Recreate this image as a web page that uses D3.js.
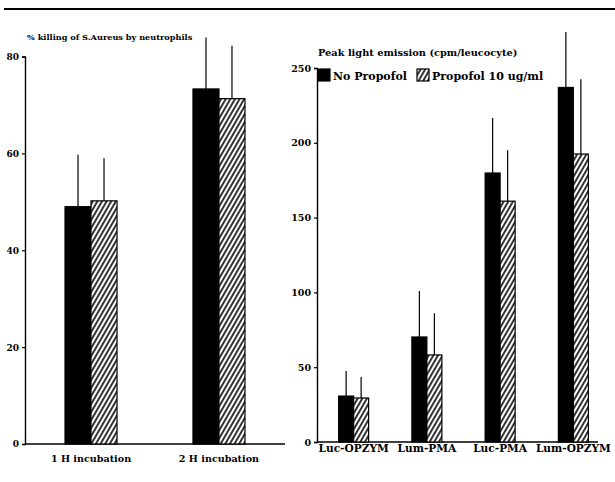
<!DOCTYPE html>
<html><head><meta charset="utf-8">
<script src="https://cdn.jsdelivr.net/npm/d3@7"></script>
<style>body{margin:0;background:#fff}svg{display:block}text{font-family:"DejaVu Serif",serif;font-weight:bold;fill:#000}</style>
</head><body><svg id="c" width="615" height="482"></svg>
<script>
// Left panel data
const leftCategories = ["1 H incubation", "2 H incubation"];
const leftNoPropofol = [49, 73.3];
const leftNoPropofolErr = [10.7, 10.6];
const leftPropofol = [50.2, 71.3];
const leftPropofolErr = [8.8, 10.9];
const leftTicks = [0, 20, 40, 60, 80];
const leftTitle = "% killing of S.Aureus by neutrophils";

// Right panel data
const rightCategories = ["Luc-OPZYM", "Lum-PMA", "Luc-PMA", "Lum-OPZYM"];
const rightNoPropofol = [30.7, 70.2, 179.8, 237];
const rightNoPropofolErr = [16.8, 30.8, 36.8, 37];
const rightPropofol = [29.4, 58.2, 161, 192.5];
const rightPropofolErr = [14, 27.8, 34, 50];
const rightTicks = [0, 50, 100, 150, 200, 250];
const rightTitle = "Peak light emission (cpm/leucocyte)";

const seriesNames = ["No Propofol", "Propofol 10 ug/ml"];

const svg = d3.select("#c");
const defs = svg.append("defs");
const pat = defs.append("pattern").attr("id", "hatch").attr("patternUnits", "userSpaceOnUse")
  .attr("width", 4).attr("height", 4).attr("patternTransform", "rotate(30)");
pat.append("rect").attr("width", 4).attr("height", 4).attr("fill", "#fff");
pat.append("line").attr("x1", 1).attr("y1", 0).attr("x2", 1).attr("y2", 4)
  .attr("stroke", "#000").attr("stroke-width", 1.6);

// top rule
svg.append("line").attr("x1", 4).attr("x2", 615).attr("y1", 9).attr("y2", 9)
  .attr("stroke", "#000").attr("stroke-width", 2.2);

function panel(cfg) {
  const g = svg.append("g");
  const x = d3.scalePoint().domain(cfg.cats).range(cfg.xr).padding(cfg.pad);
  const inner = d3.scaleBand().domain(seriesNames).range([-cfg.bw, cfg.bw]);
  const y = d3.scaleLinear().domain(cfg.ydom).range(cfg.yr);

  // axes
  const ya = d3.axisLeft(y).tickValues(cfg.ticks).tickSize(3).tickPadding(3).tickFormat(d3.format("d"));
  const yg = g.append("g").attr("transform", `translate(${cfg.xr[0]},0)`).call(ya);
  yg.select(".domain").attr("stroke-width", 1.4);
  yg.selectAll(".tick line").attr("stroke-width", 1.2);
  yg.selectAll("text").style("font-size", cfg.tickFs + "px");
  g.append("line").attr("x1", cfg.xr[0]).attr("x2", cfg.axisEnd)
    .attr("y1", y(0)).attr("y2", y(0)).attr("stroke", "#000").attr("stroke-width", 1.6);

  const series = [
    {name: seriesNames[0], vals: cfg.no, err: cfg.noErr, fill: "#000"},
    {name: seriesNames[1], vals: cfg.pr, err: cfg.prErr, fill: "url(#hatch)"}
  ];
  series.forEach(s => {
    const d = cfg.cats.map((c, i) => ({c, v: s.vals[i], e: s.err[i]}));
    g.selectAll(null).data(d).enter().append("line")
      .attr("x1", v => x(v.c) + inner(s.name) + inner.bandwidth() / 2)
      .attr("x2", v => x(v.c) + inner(s.name) + inner.bandwidth() / 2)
      .attr("y1", v => y(v.v)).attr("y2", v => y(v.v + v.e))
      .attr("stroke", "#000").attr("stroke-width", 1.2);
    g.selectAll(null).data(d).enter().append("rect")
      .attr("x", v => x(v.c) + inner(s.name))
      .attr("width", inner.bandwidth())
      .attr("y", v => y(v.v)).attr("height", v => y(0) - y(v.v))
      .attr("fill", s.fill).attr("stroke", "#000").attr("stroke-width", 1.2);
  });

  g.selectAll(null).data(cfg.cats).enter().append("text")
    .attr("x", c => x(c)).attr("y", cfg.labelY)
    .attr("text-anchor", "middle").style("font-size", cfg.labelFs + "px")
    .text(c => c);

  g.append("text").attr("x", cfg.titleX).attr("y", cfg.titleY)
    .style("font-size", cfg.titleFs + "px").text(cfg.title);
  return {x, y, g};
}

panel({cats: leftCategories, xr: [25, 285], pad: 0.516, bw: 26, axisEnd: 285,
  ydom: [0, 80], yr: [444, 56.5], ticks: leftTicks,
  no: leftNoPropofol, noErr: leftNoPropofolErr, pr: leftPropofol, prErr: leftPropofolErr,
  labelY: 462, labelFs: 9.6, tickFs: 9, title: leftTitle, titleX: 27, titleY: 40, titleFs: 8.2});

panel({cats: rightCategories, xr: [317, 610], pad: 0.5, bw: 15, axisEnd: 598,
  ydom: [0, 250], yr: [442, 68], ticks: rightTicks,
  no: rightNoPropofol, noErr: rightNoPropofolErr, pr: rightPropofol, prErr: rightPropofolErr,
  labelY: 452, labelFs: 10.6, tickFs: 9.5, title: rightTitle, titleX: 318, titleY: 56, titleFs: 9.8});

// legend
const lg = svg.append("g").attr("transform", "translate(318,69)");
const items = [{name: seriesNames[0], fill: "#000", x: 0}, {name: seriesNames[1], fill: "url(#hatch)", x: 99}];
items.forEach(it => {
  lg.append("rect").attr("x", it.x).attr("y", 0).attr("width", 12).attr("height", 12)
    .attr("fill", it.fill).attr("stroke", "#000").attr("stroke-width", 1.2);
  lg.append("text").attr("x", it.x + 15).attr("y", 10.5).style("font-size", "11px").text(it.name);
});
</script></body></html>
